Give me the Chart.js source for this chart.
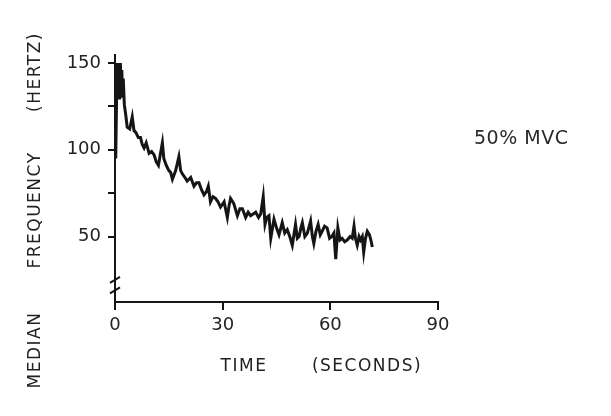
<!DOCTYPE html>
<html>
<head>
<meta charset="utf-8">
<script src="https://cdn.jsdelivr.net/npm/chart.js@4"></script>
<style>
  html, body { margin: 0; padding: 0; background: #fff; }
  #wrap { width: 611px; height: 416px; }
</style>
</head>
<body>
<div id="wrap"><canvas id="mvcChart" width="611" height="416"></canvas></div>
<script>
// median frequency trace
const timeSec = [
  0.2, 0.5, 0.7, 0.9, 1.1, 1.3, 1.5, 1.7, 1.9, 2.1, 2.3, 2.6, 3.0, 3.4, 4.1, 4.8,
  5.3, 5.8, 6.5, 7.1, 7.6,
  8.1, 8.7, 9.5, 10.2, 10.9, 11.5, 12.1, 12.6, 13.2, 13.6, 14.3, 15.0, 15.5, 16.0,
  16.9, 17.8, 18.3, 18.8, 19.5, 20.1, 21.1, 22.0, 22.7, 23.4, 24.1, 24.8, 25.5,
  26.0, 26.6, 27.3, 28.0, 28.7, 29.4, 30.4, 31.3, 31.8, 32.2, 33.1, 34.1, 34.8,
  35.5, 36.4, 37.1, 37.8, 38.5, 39.2, 40.0, 40.6, 41.3, 41.8, 42.3, 42.9, 43.4,
  44.3, 45.0, 45.7, 46.6, 47.3, 48.0, 48.7, 49.4, 50.3, 50.8, 51.3, 51.8, 52.2,
  52.9, 53.6, 54.5, 55.0, 55.4, 56.0, 56.6, 57.2, 57.7, 58.4, 59.1, 59.8, 60.4,
  61.0, 61.5, 62.1, 62.7, 63.3, 64.0, 64.7, 65.5, 66.1, 66.6, 67.0, 67.5, 68.0,
  68.4, 68.9, 69.3, 69.8, 70.3, 70.9, 71.3, 71.7
];
const medianHz = [
  95, 138, 150, 131, 148, 129, 150, 133, 146, 130, 141, 126, 120, 113, 112, 119,
  111, 110, 107, 107, 103,
  101, 104, 98, 99, 97, 93, 91, 97, 104, 95, 91, 88, 87, 83,
  88, 96, 88, 86, 84, 82, 84, 79, 81, 81, 77, 74, 76,
  79, 70, 73, 72, 70, 67, 70, 61, 68, 72, 69, 62, 66,
  66, 61, 64, 62, 63, 64, 61, 63, 73, 57, 61, 62, 49,
  60, 55, 51, 58, 52, 54, 50, 45, 57, 49, 50, 55, 58,
  50, 52, 59, 50, 46, 53, 57, 51, 53, 56, 55, 49, 50,
  52, 37, 55, 48, 49, 47, 48, 50, 49, 56, 49, 45, 50,
  48, 50, 41, 49, 53, 51, 48, 44
];

const xTickValues = [0, 30, 60, 90];
const yTickValues = [50, 75, 100, 125, 150];
const yLabelled = [50, 100, 150];

const INK = "#151515";
const FONT = "'DejaVu Sans', sans-serif";

const points = timeSec.map((t, i) => ({ x: t, y: medianHz[i] }));

// axis break, origin cross and hand-lettered labels
const decorations = {
  id: "decorations",
  afterDraw(chart) {
    const c = chart.ctx;
    const xs = chart.scales.x;
    const ys = chart.scales.y;
    const ax = xs.getPixelForValue(0);
    const bottom = chart.chartArea.bottom;

    c.save();
    c.strokeStyle = INK;
    c.lineWidth = 2;
    // y axis runs a little past the x axis
    c.beginPath();
    c.moveTo(ax, bottom);
    c.lineTo(ax, bottom + 6);
    c.stroke();
    // break marks
    [25, 19].forEach(v => {
      const py = ys.getPixelForValue(v);
      c.beginPath();
      c.moveTo(ax - 5, py + 3);
      c.lineTo(ax + 5, py - 3);
      c.stroke();
    });

    c.fillStyle = "#222";
    c.textAlign = "center";
    c.textBaseline = "middle";
    c.font = "17px " + FONT;
    c.letterSpacing = "1.5px";

    // y title, rotated
    c.save();
    c.translate(36, 0);
    c.rotate(-Math.PI / 2);
    c.fillText("MEDIAN", -350, 0);
    c.fillText("FREQUENCY", -210, 0);
    c.fillText("(HERTZ)", -72, 0);
    c.restore();

    // x title
    c.fillText("TIME", 244, 367);
    c.fillText("(SECONDS)", 367, 367);

    // condition label
    c.font = "500 19px " + FONT;
    c.letterSpacing = "0.5px";
    c.textAlign = "left";
    c.fillStyle = "#2a2a2a";
    c.fillText("50% MVC", 474, 139);
    c.restore();
  }
};

new Chart(document.getElementById("mvcChart"), {
  type: "line",
  data: {
    datasets: [{
      data: points,
      borderColor: INK,
      borderWidth: 3,
      pointRadius: 0,
      tension: 0,
      fill: false
    }]
  },
  options: {
    responsive: false,
    animation: false,
    layout: { padding: { top: 55, right: 173, left: 0, bottom: 0 } },
    plugins: {
      legend: { display: false },
      tooltip: { enabled: false }
    },
    scales: {
      x: {
        type: "linear",
        min: 0,
        max: 90,
        afterBuildTicks: s => { s.ticks = xTickValues.map(v => ({ value: v })); },
        afterFit: s => { s.height = 114; },
        grid: { drawOnChartArea: false, color: INK, lineWidth: 2, tickLength: 8 },
        border: { color: INK, width: 2 },
        ticks: {
          color: "#222",
          font: { family: FONT, size: 18 },
          padding: 5,
          maxRotation: 0,
          autoSkip: false
        }
      },
      y: {
        min: 12.3,
        max: 154.6,
        afterBuildTicks: s => { s.ticks = yTickValues.map(v => ({ value: v })); },
        afterFit: s => { s.width = 115; },
        grid: { drawOnChartArea: false, color: INK, lineWidth: 2, tickLength: 7 },
        border: { color: INK, width: 2 },
        ticks: {
          color: "#222",
          font: { family: FONT, size: 18 },
          padding: 7,
          autoSkip: false,
          callback: v => (yLabelled.includes(v) ? String(v) : "")
        }
      }
    }
  },
  plugins: [decorations]
});
</script>
</body>
</html>
